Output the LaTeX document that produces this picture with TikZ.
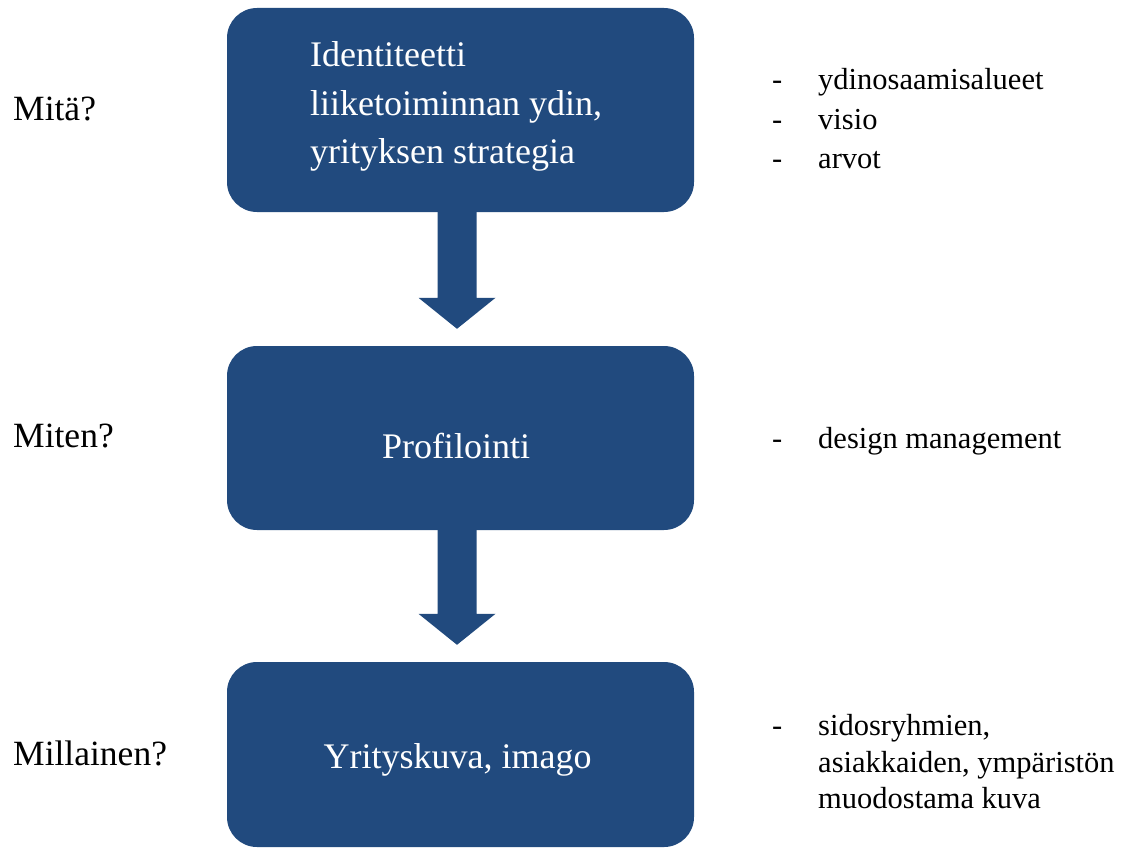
\documentclass[tikz,border=0pt]{standalone}
\usepackage{fontspec}
\setmainfont{Liberation Serif}
\usetikzlibrary{calc}
\definecolor{boxblue}{RGB}{33,74,126}
\tikzset{
  stage/.style={fill=boxblue, draw=none, rounded corners=30pt, minimum width=467pt, inner sep=0pt},
  boxtext/.style={text=white, inner sep=0pt, font=\fontsize{36}{43}\selectfont},
  question/.style={inner sep=0pt, anchor=base west, font=\fontsize{35.5}{42}\selectfont},
  note/.style={inner sep=0pt, anchor=base west, font=\fontsize{30.5}{37}\selectfont},
  bullet/.style={inner sep=0pt, anchor=base west, font=\fontsize{30.5}{37}\selectfont},
}
% block arrow from the bottom of one stage to just above the next
\newcommand{\flowarrow}[2]{%
  \fill[boxblue] let \p1=($(#1.south)+(-3.5pt,0)$), \p2=(#2.north) in
    (\x1-19.5pt,\y1) -- (\x1+19.5pt,\y1) -- (\x1+19.5pt,\y2+48pt) --
    (\x1+38.5pt,\y2+48pt) -- (\x1,\y2+17pt) -- (\x1-38.5pt,\y2+48pt) --
    (\x1-19.5pt,\y2+48pt) -- cycle;}
\begin{document}
\begin{tikzpicture}[x=1pt,y=-1pt]
\useasboundingbox (0,0) rectangle (1131,848);
\fill[white] (0,0) rectangle (1131,848);

% stages
\node[stage, minimum height=204pt] (ident) at (460.5,110) {};
\node[stage, minimum height=184pt] (prof)  at (460.5,438) {};
\node[stage, minimum height=185pt] (image) at (460.5,754.5) {};

\flowarrow{ident}{prof}
\flowarrow{prof}{image}

% texts inside the stages
\node[boxtext, anchor=base west] (i1) at (310,67)  {Identiteetti};
\node[boxtext, anchor=base west] (i2) at (310,115) {liiketoiminnan ydin,};
\node[boxtext, anchor=base west] (i3) at (310,163) {yrityksen strategia};
\node[boxtext, anchor=base] (p1) at (456,458) {Profilointi};
\node[boxtext, anchor=base] (y1) at (457.5,768) {Yrityskuva, imago};

% questions on the left
\node[question] (q1) at (13,121) {Mitä?};
\node[question] (q2) at (13,447) {Miten?};
\node[question] (q3) at (13,765) {Millainen?};

% notes on the right
\node[bullet] (d1) at (772,90)  {-};
\node[bullet] (d2) at (772,129) {-};
\node[bullet] (d3) at (772,168) {-};
\node[note] (n1) at (818,90)  {ydinosaamisalueet};
\node[note] (n2) at (818,129) {visio};
\node[note] (n3) at (818,168) {arvot};

\node[bullet] (d4) at (772,448) {-};
\node[note] (n4) at (818,448) {design management};

\node[bullet] (d5) at (772,735) {-};
\node[note] (n5) at (818,735) {sidosryhmien,};
\node[note] (n6) at (818,772) {asiakkaiden, ympäristön};
\node[note] (n7) at (818,808) {muodostama kuva};
\end{tikzpicture}
\end{document}
